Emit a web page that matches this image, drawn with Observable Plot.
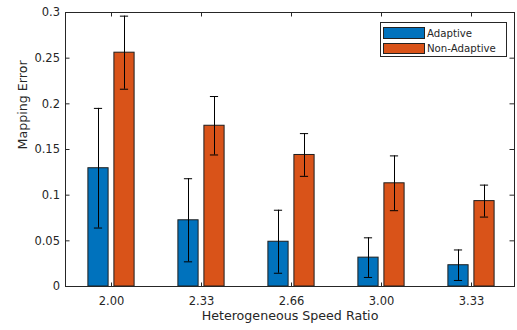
<!DOCTYPE html>
<html>
<head>
<meta charset="utf-8">
<script src="https://cdn.jsdelivr.net/npm/d3@7"></script>
<script src="https://cdn.jsdelivr.net/npm/@observablehq/plot@0.6"></script>
<style>
  html, body { margin: 0; padding: 0; background: #fff; }
  #wrap { position: relative; width: 517px; height: 330px; font-family: "DejaVu Sans", sans-serif; color: #262626; }
  #legend { position: absolute; left: 380px; top: 22px; width: 127px; height: 35px; border: 1px solid #262626; background: #fff; box-sizing: border-box; font-size: 10.2px; }
  .item { position: absolute; left: 2px; height: 12px; display: flex; align-items: center; white-space: nowrap; }
  .sw { width: 42px; height: 11.5px; border: 1px solid #222; box-sizing: border-box; margin-right: 2px; }
</style>
</head>
<body>
<div id="wrap"></div>
<script>
const categories = ["2.00", "2.33", "2.66", "3.00", "3.33"];
const seriesNames = ["Adaptive", "Non-Adaptive"];
const adaptiveMean = [0.1295, 0.0725, 0.049, 0.0316, 0.0233];
const adaptiveErr = [0.0655, 0.0455, 0.0345, 0.0217, 0.0167];
const nonAdaptiveMean = [0.256, 0.176, 0.144, 0.113, 0.0935];
const nonAdaptiveErr = [0.040, 0.032, 0.0234, 0.030, 0.0175];
const yTicks = [0, 0.05, 0.1, 0.15, 0.2, 0.25, 0.3];
const colors = ["#0072BD", "#D95319"];
const xLabel = "Heterogeneous Speed Ratio";
const yLabel = "Mapping Error";

const rows = [];
categories.forEach((c, i) => {
  rows.push({category: c, series: seriesNames[0], mean: adaptiveMean[i], err: adaptiveErr[i]});
  rows.push({category: c, series: seriesNames[1], mean: nonAdaptiveMean[i], err: nonAdaptiveErr[i]});
});

const W = 517, H = 330, mL = 65, mR = 3, mT = 12, mB = 44;
const fw = W - mL - mR, fh = H - mT - mB;
const bandW = 90.8, barW = 21, off = 13, capW = 9;
const ink = "#262626";

const marks = [];
seriesNames.forEach((s, k) => {
  const d = rows.filter(r => r.series === s);
  const dx = k === 0 ? -off : off;
  marks.push(Plot.barY(d, {x: "category", y: "mean", fill: colors[k], stroke: "#1e1e1e", strokeWidth: 1,
    insetLeft: (bandW - barW) / 2, insetRight: (bandW - barW) / 2, dx}));
});
seriesNames.forEach((s, k) => {
  const d = rows.filter(r => r.series === s);
  const dx = k === 0 ? -off : off;
  marks.push(Plot.ruleX(d, {x: "category", y1: r => r.mean - r.err, y2: r => r.mean + r.err, stroke: "#000", strokeWidth: 1, dx}));
  marks.push(Plot.tickY(d, {x: "category", y: r => r.mean + r.err, stroke: "#000", strokeWidth: 1,
    insetLeft: (bandW - capW) / 2, insetRight: (bandW - capW) / 2, dx}));
  marks.push(Plot.tickY(d, {x: "category", y: r => r.mean - r.err, stroke: "#000", strokeWidth: 1,
    insetLeft: (bandW - capW) / 2, insetRight: (bandW - capW) / 2, dx}));
});
marks.push(Plot.frame({stroke: ink, strokeWidth: 1}));
// inward ticks
marks.push(Plot.ruleY(yTicks, {y: d => d, insetRight: fw - 4.5, stroke: ink}));
marks.push(Plot.ruleY(yTicks, {y: d => d, insetLeft: fw - 4.5, stroke: ink}));
marks.push(Plot.ruleX(categories, {x: d => d, insetTop: fh - 3.5, stroke: ink}));
marks.push(Plot.ruleX(categories, {x: d => d, insetBottom: fh - 4.5, stroke: ink}));
marks.push(Plot.axisY({ticks: yTicks, tickSize: 0, tickPadding: 5.5, tickFormat: d => String(+d.toFixed(2)), label: null, fill: ink, fontSize: 11.5}));
marks.push(Plot.axisX({tickSize: 0, tickPadding: 10.5, label: null, fill: ink, fontSize: 11.5}));
marks.push(Plot.text([xLabel], {frameAnchor: "bottom", dy: 33.2, fontSize: 12.65, fill: ink, text: d => d}));
marks.push(Plot.text([yLabel], {frameAnchor: "left", dx: -42.5, rotate: -90, fontSize: 12.65, fill: ink, text: d => d}));

const chart = Plot.plot({
  width: W, height: H,
  marginLeft: mL, marginRight: mR, marginTop: mT, marginBottom: mB,
  style: {fontFamily: "DejaVu Sans, sans-serif", fontSize: "11.5px", color: ink, background: "#fff"},
  x: {type: "band", domain: categories, range: [64, 518], padding: 0},
  y: {domain: [0, 0.3]},
  marks
});
const wrap = document.getElementById("wrap");
wrap.appendChild(chart);

const legend = document.createElement("div");
legend.id = "legend";
seriesNames.forEach((s, k) => {
  const it = document.createElement("div");
  it.className = "item";
  it.style.top = (k === 0 ? 4 : 19.3) + "px";
  const sw = document.createElement("div");
  sw.className = "sw";
  sw.style.background = colors[k];
  const t = document.createElement("span");
  t.textContent = s;
  it.appendChild(sw); it.appendChild(t);
  legend.appendChild(it);
});
wrap.appendChild(legend);
</script>
</body>
</html>
